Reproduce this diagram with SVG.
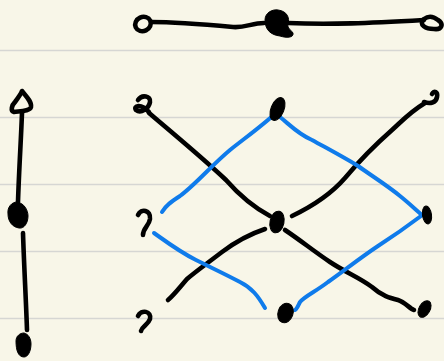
<svg xmlns="http://www.w3.org/2000/svg" width="444" height="361" viewBox="0 0 444 361">
<style>
.ink{fill:none;stroke:#000;stroke-width:4.6;stroke-linecap:round;stroke-linejoin:round}
.blue{fill:none;stroke:#0f7beb;stroke-width:4;stroke-linecap:round;stroke-linejoin:round}
.dot{fill:#000;stroke:#000;stroke-width:1}
.rule{stroke:#d6d6d3;stroke-width:1.5}
</style>
<rect width="444" height="361" fill="#f8f6e8"/>
<g id="paper">
<line class="rule" x1="0" y1="50.5" x2="444" y2="50.5"/>
<line class="rule" x1="0" y1="117.5" x2="444" y2="117.5"/>
<line class="rule" x1="0" y1="184.5" x2="444" y2="184.5"/>
<line class="rule" x1="0" y1="251.5" x2="444" y2="251.5"/>
<line class="rule" x1="0" y1="318.5" x2="444" y2="318.5"/>
</g>
<g id="connectors">
<path class="ink" d="M151,22 C175,22 200,24 233,27 C245,28 252,23 264,23"/>
<path class="ink" d="M288,23 C330,25 370,23 424,20"/>
<path class="ink" d="M22,113 C21,140 19,170 18,202"/>
<path class="ink" d="M23,233 C24,265 26,300 27,330"/>
<path class="ink" d="M149,113 C175,135 205,160 226,180 C240,196 255,208 270,216"/>
<path class="ink" d="M292,216 C315,205 332,193 345,178 C360,160 375,145 392,130 C402,121 410,112 425,103"/>
<path class="ink" d="M265,229 C250,234 238,240 222,252 C205,265 195,272 187,279 C180,287 174,295 168,300"/>
<path class="ink" d="M285,230 C300,240 315,252 330,262 C345,272 360,278 372,287 C382,296 390,298 398,300 C405,302 410,309 414,310"/>
<path class="blue" d="M162,212 C166,205 172,201 180,196 C195,185 212,165 230,150 C245,138 262,126 277,112"/>
<path class="blue" d="M280,117 C290,125 298,134 312,140 C330,150 345,158 358,166 C372,176 388,186 400,196 C410,204 416,210 422,215"/>
<path class="blue" d="M421,216 C405,228 392,237 378,246 C360,258 345,270 328,282 C315,292 305,296 300,302 C298,306 297,309 295,310"/>
<path class="blue" d="M154,233 C168,243 180,252 196,260 C212,268 225,274 240,282 C252,288 258,296 265,308"/>
</g>
<g id="top-left"><ellipse cx="143" cy="24" rx="8" ry="7" transform="rotate(-25 143 24)" class="ink"/></g>
<g id="top-center"><path class="dot" d="M265,20 C265,13 272,9 278,10 C287,11 290,18 288,24 C287,28 291,30 293,33 C294,38 286,38 280,36 C271,35 265,30 265,20 Z"/></g>
<g id="top-right"><path class="ink" d="M424,19 C428,16 433,16 438,20 C444,24 442,30 434,29 C426,29 418,25 424,19 Z"/></g>
<g id="left-top"><path class="ink" d="M22,91 C26,96 32,102 31,107 C30,111 22,111 14,112 C10,111 12,105 15,102 C18,98 21,94 22,91 Z"/></g>
<g id="left-mid"><path class="dot" d="M8,214 C7,207 12,202 17,202 C24,203 28,210 28,216 C28,223 24,229 19,228 C12,227 8,221 8,214 Z"/></g>
<g id="left-bottom"><path class="dot" d="M16,341 C16,336 20,333 24,333 C28,334 31,338 31,344 C31,351 28,357 24,357 C18,357 16,350 16,341 Z"/></g>
<g id="n-tl"><path class="ink" d="M138,100 C142,94 151,96 150,102 C149,108 141,114 136,110 C133,106 141,103 149,112"/></g>
<g id="n-ml"><path class="ink" stroke-width="5.5" d="M138,215 C141,208 151,210 150,219 C149,226 143,228 143,235"/></g>
<g id="n-bl"><path class="ink" stroke-width="5.5" d="M138,316 C141,309 152,311 150,319 C148,325 142,326 141,331"/></g>
<g id="n-tc"><ellipse class="dot" cx="277.5" cy="109" rx="6.5" ry="12" transform="rotate(22 277.5 109)"/></g>
<g id="n-c"><ellipse class="dot" cx="277" cy="222" rx="7" ry="11" transform="rotate(12 277 222)"/></g>
<g id="n-bc"><ellipse class="dot" cx="285.5" cy="313" rx="7.5" ry="10" transform="rotate(20 285.5 313)"/></g>
<g id="n-tr"><path class="ink" d="M424,102 C430,104 436,103 437,97 C438,92 434,90 432,94"/></g>
<g id="n-mr"><ellipse class="dot" cx="427" cy="215" rx="4.5" ry="9" transform="rotate(-8 427 215)"/></g>
<g id="n-br"><ellipse class="dot" cx="424.5" cy="309" rx="5.5" ry="9" transform="rotate(30 424.5 309)"/></g>
</svg>
